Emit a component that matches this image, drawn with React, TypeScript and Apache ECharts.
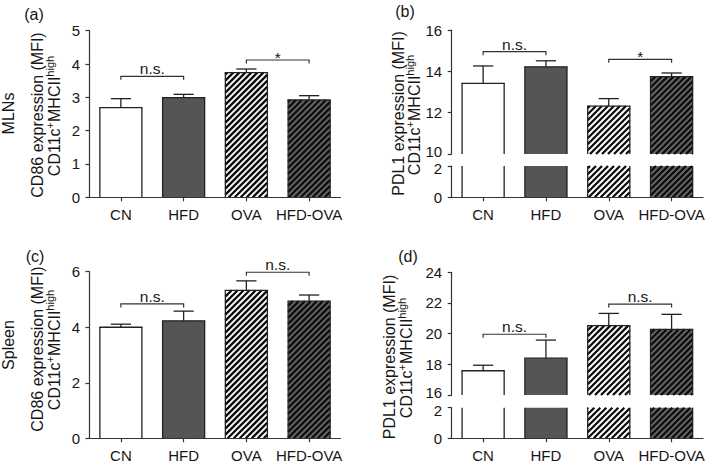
import React, { useEffect, useRef } from 'react';
import * as echarts from 'echarts';

// ---------- data ----------
const categories = ['CN', 'HFD', 'OVA', 'HFD-OVA'];

const cd86MlnMean = [2.69, 2.99, 3.74, 2.92];
const cd86MlnErr = [0.27, 0.1, 0.11, 0.13];

const pdl1MlnMean = [13.42, 14.22, 12.32, 13.74];
const pdl1MlnErr = [0.84, 0.29, 0.36, 0.18];

const cd86SpleenMean = [4.0, 4.23, 5.33, 4.94];
const cd86SpleenErr = [0.11, 0.35, 0.34, 0.22];

const pdl1SpleenMean = [17.58, 18.4, 20.52, 20.28];
const pdl1SpleenErr = [0.36, 1.18, 0.8, 0.98];

// significance brackets: [from category, to category, height]
const bracketsA = [[0, 1, 3.63], [2, 3, 4.12]];
const bracketLabelsA = ['n.s.', '*'];
const bracketsB = [[0, 1, 14.95], [2, 3, 14.58]];
const bracketLabelsB = ['n.s.', '*'];
const bracketsC = [[0, 1, 4.84], [2, 3, 5.98]];
const bracketLabelsC = ['n.s.', 'n.s.'];
const bracketsD = [[0, 1, 19.96], [2, 3, 21.93]];
const bracketLabelsD = ['n.s.', 'n.s.'];

// ---------- style ----------
const FONT = "'Liberation Sans', Arial, Helvetica, sans-serif";
const INK = '#161616';
const AXIS = '#333333';
const EDGE = '#222222';
const FILLS = [
  { bg: '#ffffff', stripe: false },
  { bg: '#555555', stripe: false },
  { bg: '#ffffff', stripe: true },
  { bg: '#666666', stripe: true },
];
const BAR_RATIO = 0.67;
const STRIPE_P = 6;
const STRIPE_W = 2.3;

function barRenderer(yMin: number, yMax: number, withErr: boolean) {
  return (params: any, api: any) => {
    const i = api.value(0) as number;
    const v = api.value(1) as number;
    const e = api.value(2) as number;
    if (v <= yMin) return null;
    const band = api.size([1, 0])[0];
    const w = band * BAR_RATIO;
    const base = api.coord([i, yMin]);
    const cx = base[0];
    const yBot = base[1];
    const yTop = api.coord([i, Math.min(v, yMax)])[1];
    const x0 = cx - w / 2;
    const x1 = cx + w / 2;
    const fill = FILLS[i];
    const children: any[] = [
      {
        type: 'rect',
        shape: { x: x0, y: yTop, width: w, height: yBot - yTop },
        style: { fill: fill.bg, stroke: null },
      },
    ];
    if (fill.stripe) {
      const cStart = Math.ceil((x0 + yTop) / STRIPE_P) * STRIPE_P;
      for (let c = cStart; c < x1 + yBot; c += STRIPE_P) {
        const xa = Math.max(x0, c - yBot);
        const xb = Math.min(x1, c - yTop);
        if (xb - xa > 0.4) {
          children.push({
            type: 'line',
            shape: { x1: xa, y1: c - xa, x2: xb, y2: c - xb },
            style: { stroke: '#0d0d0d', lineWidth: STRIPE_W },
          });
        }
      }
    }
    const edge = { stroke: EDGE, lineWidth: 1.3, fill: null };
    children.push({ type: 'line', shape: { x1: x0, y1: yTop, x2: x0, y2: yBot }, style: edge });
    children.push({ type: 'line', shape: { x1: x1, y1: yTop, x2: x1, y2: yBot }, style: edge });
    if (v <= yMax) {
      children.push({ type: 'line', shape: { x1: x0 - 0.65, y1: yTop, x2: x1 + 0.65, y2: yTop }, style: edge });
      if (withErr) {
        const yE = api.coord([i, Math.min(v + e, yMax)])[1];
        const cw = w * 0.48;
        children.push({ type: 'line', shape: { x1: cx, y1: yTop, x2: cx, y2: yE }, style: edge });
        children.push({ type: 'line', shape: { x1: cx - cw / 2, y1: yE, x2: cx + cw / 2, y2: yE }, style: edge });
      }
    }
    return { type: 'group', children };
  };
}

function bracketRenderer(labels: string[]) {
  return (params: any, api: any) => {
    const y = api.value(2);
    const p1 = api.coord([api.value(0), y]);
    const p2 = api.coord([api.value(1), y]);
    const label = labels[params.dataIndex];
    const drop = 3.5;
    return {
      type: 'group',
      children: [
        {
          type: 'polyline',
          shape: {
            points: [
              [p1[0], p1[1] + drop],
              [p1[0], p1[1]],
              [p2[0], p2[1]],
              [p2[0], p2[1] + drop],
            ],
          },
          style: { fill: null, stroke: AXIS, lineWidth: 1.2 },
        },
        {
          type: 'text',
          x: (p1[0] + p2[0]) / 2,
          y: label === '*' ? p1[1] + 5 : p1[1] + 0.5,
          style: {
            text: label,
            align: 'center',
            verticalAlign: 'bottom',
            fontSize: 15.5,
            fontFamily: FONT,
            fill: INK,
          },
        },
      ],
    };
  };
}

function barData(mean: number[], err: number[]) {
  return categories.map((_, i) => [i, mean[i], err[i]]);
}

function xAxisVisible(gridIndex: number) {
  return {
    type: 'category',
    gridIndex,
    data: categories,
    z: 5,
    axisLine: { show: true, lineStyle: { color: AXIS, width: 1.2 } },
    axisTick: { show: true, alignWithLabel: true, length: 4, lineStyle: { color: AXIS, width: 1.2 } },
    axisLabel: { show: true, color: INK, fontSize: 15, fontFamily: FONT, margin: 10, interval: 0 },
    splitLine: { show: false },
  };
}

function xAxisHidden(gridIndex: number) {
  return { type: 'category', gridIndex, data: categories, show: false };
}

// breakSide: 'lowEdge' = this axis sits above a break (nudge its min label up),
//            'highEdge' = this axis sits below a break (nudge its max label down)
function yAxisOf(gridIndex: number, min: number, max: number, interval: number, breakSide?: string) {
  const labelStyle = { fontSize: 15, fontFamily: FONT, color: INK };
  return {
    type: 'value',
    gridIndex,
    min,
    max,
    interval,
    z: 5,
    axisLine: { show: true, lineStyle: { color: AXIS, width: 1.2 } },
    axisTick: { show: true, length: 4, lineStyle: { color: AXIS, width: 1.2 } },
    axisLabel: {
      show: true,
      ...labelStyle,
      margin: 9.5,
      formatter: (v: number) => {
        if (breakSide === 'lowEdge' && v === min) return `{up|${v}}`;
        if (breakSide === 'highEdge' && v === max) return `{dn|${v}}`;
        return `${v}`;
      },
      rich: {
        up: { ...labelStyle, padding: [0, 0, 6, 0] },
        dn: { ...labelStyle, padding: [5, 0, 0, 0] },
      },
    },
    splitLine: { show: false },
  };
}

function vText(text: string, x: number, y: number) {
  return {
    type: 'text',
    x,
    y,
    rotation: Math.PI / 2,
    style: { text, align: 'center', verticalAlign: 'middle', fontSize: 16, fontFamily: FONT, fill: INK },
  };
}

function vTextCells(x: number, y: number) {
  return {
    type: 'text',
    x,
    y,
    rotation: Math.PI / 2,
    style: {
      text: '{n|CD11c}{s|+}{n|MHCII}{s|high}',
      align: 'center',
      verticalAlign: 'middle',
      fontFamily: FONT,
      fill: INK,
      rich: {
        n: { fontSize: 16, lineHeight: 18, verticalAlign: 'bottom', fontFamily: FONT, fill: INK },
        s: { fontSize: 11, lineHeight: 12, verticalAlign: 'top', fontFamily: FONT, fill: INK },
      },
    },
  };
}

function panelLabel(text: string, x: number, y: number) {
  return {
    type: 'text',
    x,
    y,
    style: { text, align: 'center', verticalAlign: 'middle', fontSize: 16, fontFamily: FONT, fill: INK },
  };
}

export default function App() {
  const ref = useRef<HTMLDivElement>(null);

  useEffect(() => {
    if (!ref.current) return;
    const chart = echarts.init(ref.current, undefined, { renderer: 'svg' });

    const option: any = {
      animation: false,
      backgroundColor: '#ffffff',
      textStyle: { fontFamily: FONT },
      grid: [
        { left: 89.5, top: 30.7, width: 251, height: 166.6 },
        { left: 451.7, top: 30, width: 251.3, height: 124 },
        { left: 451.7, top: 166, width: 251.3, height: 31.3 },
        { left: 89.5, top: 271.7, width: 251, height: 166.6 },
        { left: 451.7, top: 272.3, width: 251.3, height: 122.7 },
        { left: 451.7, top: 407.7, width: 251.3, height: 30.6 },
      ],
      xAxis: [
        xAxisVisible(0),
        xAxisHidden(1),
        xAxisVisible(2),
        xAxisVisible(3),
        xAxisHidden(4),
        xAxisVisible(5),
      ],
      yAxis: [
        yAxisOf(0, 0, 5, 1),
        yAxisOf(1, 10, 16, 2, 'lowEdge'),
        yAxisOf(2, 0, 2, 2, 'highEdge'),
        yAxisOf(3, 0, 6, 2),
        yAxisOf(4, 16, 24, 2, 'lowEdge'),
        yAxisOf(5, 0, 2, 2, 'highEdge'),
      ],
      series: [
        // (a)
        { type: 'custom', name: 'CD86 MLNs', xAxisIndex: 0, yAxisIndex: 0, clip: false, encode: { x: 0, y: 1 },
          renderItem: barRenderer(0, 5, true), data: barData(cd86MlnMean, cd86MlnErr) },
        { type: 'custom', name: 'sig a', xAxisIndex: 0, yAxisIndex: 0, clip: false, encode: { x: 0, y: 2 },
          renderItem: bracketRenderer(bracketLabelsA), data: bracketsA },
        // (b)
        { type: 'custom', name: 'PDL1 MLNs upper', xAxisIndex: 1, yAxisIndex: 1, clip: false, encode: { x: 0, y: 1 },
          renderItem: barRenderer(10, 16, true), data: barData(pdl1MlnMean, pdl1MlnErr) },
        { type: 'custom', name: 'PDL1 MLNs lower', xAxisIndex: 2, yAxisIndex: 2, clip: false, encode: { x: 0, y: 1 },
          renderItem: barRenderer(0, 2, false), data: barData(pdl1MlnMean, pdl1MlnErr) },
        { type: 'custom', name: 'sig b', xAxisIndex: 1, yAxisIndex: 1, clip: false, encode: { x: 0, y: 2 },
          renderItem: bracketRenderer(bracketLabelsB), data: bracketsB },
        // (c)
        { type: 'custom', name: 'CD86 Spleen', xAxisIndex: 3, yAxisIndex: 3, clip: false, encode: { x: 0, y: 1 },
          renderItem: barRenderer(0, 6, true), data: barData(cd86SpleenMean, cd86SpleenErr) },
        { type: 'custom', name: 'sig c', xAxisIndex: 3, yAxisIndex: 3, clip: false, encode: { x: 0, y: 2 },
          renderItem: bracketRenderer(bracketLabelsC), data: bracketsC },
        // (d)
        { type: 'custom', name: 'PDL1 Spleen upper', xAxisIndex: 4, yAxisIndex: 4, clip: false, encode: { x: 0, y: 1 },
          renderItem: barRenderer(16, 24, true), data: barData(pdl1SpleenMean, pdl1SpleenErr) },
        { type: 'custom', name: 'PDL1 Spleen lower', xAxisIndex: 5, yAxisIndex: 5, clip: false, encode: { x: 0, y: 1 },
          renderItem: barRenderer(0, 2, false), data: barData(pdl1SpleenMean, pdl1SpleenErr) },
        { type: 'custom', name: 'sig d', xAxisIndex: 4, yAxisIndex: 4, clip: false, encode: { x: 0, y: 2 },
          renderItem: bracketRenderer(bracketLabelsD), data: bracketsD },
      ],
      graphic: [
        panelLabel('(a)', 34, 14),
        panelLabel('(b)', 405, 11),
        panelLabel('(c)', 35, 256.5),
        panelLabel('(d)', 408, 256.5),
        vText('MLNs', 8.5, 113.5),
        vText('CD86 expression (MFI)', 37, 115),
        vTextCells(53, 116),
        vText('PDL1 expression (MFI)', 398.5, 113.5),
        vTextCells(413.5, 115),
        vText('Spleen', 8.5, 345),
        vText('CD86 expression (MFI)', 37.5, 349),
        vTextCells(53.5, 350),
        vText('PDL1 expression (MFI)', 389.5, 357),
        vTextCells(405.5, 358),
      ],
    };

    chart.setOption(option);
    return () => {
      chart.dispose();
    };
  }, []);

  return (
    <div
      ref={ref}
      style={{ position: 'absolute', left: 0, top: 0, width: 709, height: 466, background: '#fff' }}
    />
  );
}
